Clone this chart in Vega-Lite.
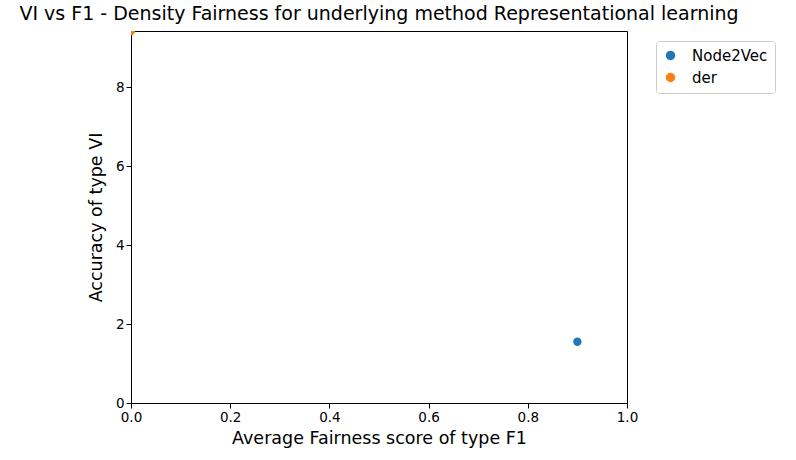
{
  "$schema": "https://vega.github.io/schema/vega-lite/v6.json",
  "width": 496,
  "height": 372,
  "autosize": "none",
  "padding": {"left": 131, "top": 31, "right": 169, "bottom": 57},
  "background": "white",
  "view": {"stroke": "black", "strokeWidth": 1},
  "config": {"font": "DejaVu Sans"},
  "title": {
    "text": "VI vs F1 - Density Fairness for underlying method Representational learning",
    "fontSize": 19,
    "fontWeight": "normal",
    "color": "black",
    "anchor": "middle",
    "offset": 7
  },
  "data": {
    "values": [
      {"method": "Node2Vec", "f1": 0.9, "vi": 1.55},
      {"method": "der", "f1": 0.0, "vi": 9.42}
    ]
  },
  "mark": {"type": "point", "filled": true, "size": 70, "opacity": 1, "clip": true},
  "encoding": {
    "x": {
      "field": "f1",
      "type": "quantitative",
      "scale": {"domain": [0, 1], "nice": false, "zero": false},
      "axis": {"title": "Average Fairness score of type F1", "titleFontSize": 17.5, "titleFontWeight": "normal", "titleColor": "black", "titlePadding": 6, "labelColor": "black", "labelFontSize": 13.5, "grid": false, "tickCount": 5, "format": ".1f", "domainColor": "black", "tickColor": "black", "labelFlush": false, "tickSize": 5}
    },
    "y": {
      "field": "vi",
      "type": "quantitative",
      "scale": {"domain": [0, 9.42], "nice": false},
      "axis": {"title": "Accuracy of type VI", "titleFontSize": 17.5, "titleFontWeight": "normal", "titleColor": "black", "titlePadding": 10, "labelColor": "black", "labelFontSize": 13.5, "grid": false, "values": [0, 2, 4, 6, 8], "domainColor": "black", "tickColor": "black", "labelFlush": false, "tickSize": 5}
    },
    "color": {
      "field": "method",
      "type": "nominal",
      "scale": {"domain": ["Node2Vec", "der"], "range": ["#1f77b4", "#ff7f0e"]},
      "legend": {"title": null, "orient": "none", "legendX": 525, "legendY": 10, "labelFontSize": 15, "labelColor": "black", "symbolType": "circle", "symbolSize": 90, "strokeColor": "#cccccc", "cornerRadius": 3, "padding": 7, "fillColor": "white", "rowPadding": 6, "labelOffset": 14}
    }
  }
}
